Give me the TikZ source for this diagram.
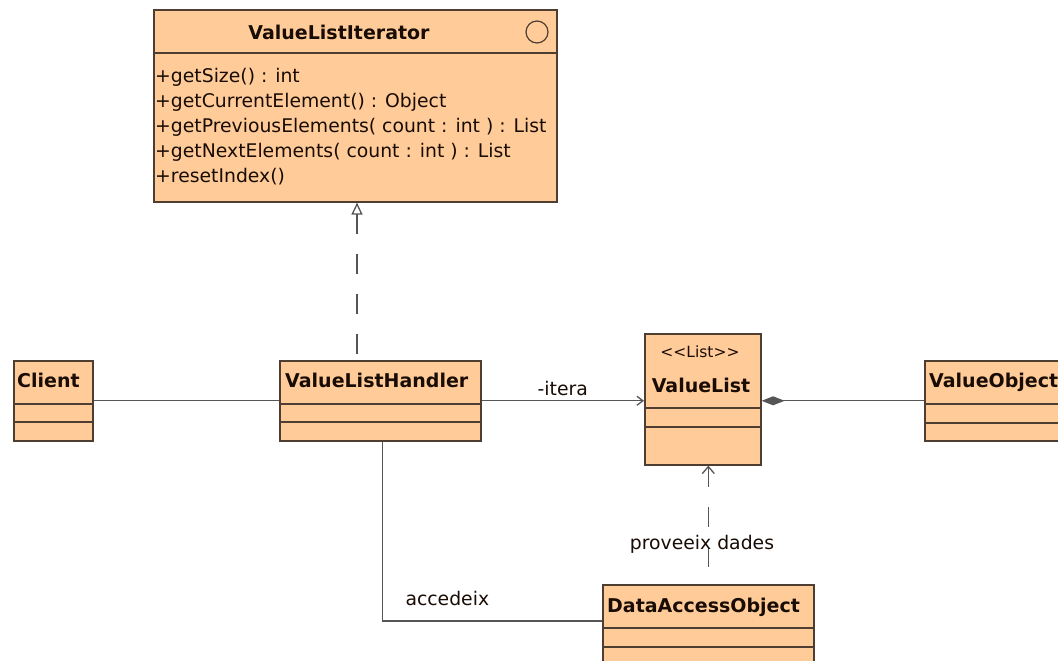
\documentclass[tikz,border=0pt]{standalone}
\usepackage{fontspec}
\setmainfont{DejaVu Sans}
\usetikzlibrary{arrows.meta,calc}
\definecolor{classfill}{RGB}{255,204,153}
\definecolor{classline}{RGB}{78,62,50}
\definecolor{conn}{RGB}{85,85,85}
\definecolor{ink}{RGB}{25,12,5}

\begin{document}
\begin{tikzpicture}[x=1pt,y=-1pt,
  cls/.style={draw=classline, fill=classfill, line width=1.6pt, inner sep=0pt, anchor=north west},
  div/.style={draw=classline, line width=1.3pt},
  cname/.style={font=\fontsize{19}{21}\selectfont\bfseries, text=ink, inner sep=0pt},
  member/.style={font=\fontsize{18.8}{21}\selectfont, text=ink, inner sep=0pt, anchor=base west},
  lbl/.style={font=\fontsize{18.8}{21}\selectfont, text=ink, inner sep=0pt},
  assoc/.style={draw=conn, line width=1.3pt},
  dep/.style={assoc, dash pattern=on 20pt off 20pt},
]
\useasboundingbox[fill=white] (0,0) rectangle (1058,661);

% interface ValueListIterator
\node[cls, minimum width=403pt, minimum height=192pt] (vli) at (153,9) {};
\draw[div] (vli.west |- 0,53) -- (vli.east |- 0,53);
\node[draw=classline, line width=1.2pt, circle, minimum size=22pt, inner sep=0pt] (ico) at (537,32) {};
\node[cname] (vlit) at (339,32) {ValueListIterator};
\node[member] (m1) at (155,82) {+getSize() : int};
\node[member] (m2) at (155,107) {+getCurrentElement() : Object};
\node[member] (m3) at (155,132) {+getPreviousElements( count : int ) : List};
\node[member] (m4) at (155,157) {+getNextElements( count : int ) : List};
\node[member] (m5) at (155,182) {+resetIndex()};

% Client
\node[cls, minimum width=79pt, minimum height=80pt] (client) at (13,360) {};
\draw[div] (client.west |- 0,404) -- (client.east |- 0,404);
\draw[div] (client.west |- 0,422) -- (client.east |- 0,422);
\node[cname, anchor=base west] (clientt) at (17,387) {Client};

% ValueListHandler
\node[cls, minimum width=201pt, minimum height=80pt] (vlh) at (279,360) {};
\draw[div] (vlh.west |- 0,404) -- (vlh.east |- 0,404);
\draw[div] (vlh.west |- 0,422) -- (vlh.east |- 0,422);
\node[cname, anchor=base west] (vlht) at (285,387) {ValueListHandler};

% ValueList with its stereotype
\node[cls, minimum width=116pt, minimum height=131pt] (vl) at (644,333) {};
\draw[div] (vl.west |- 0,408) -- (vl.east |- 0,408);
\draw[div] (vl.west |- 0,427) -- (vl.east |- 0,427);
\node[lbl, anchor=base, font=\fontsize{15.5}{18}\selectfont] (vls) at (700,357) {{<}{<}List{>}{>}};
\node[cname, anchor=base] (vlt) at (701,392) {ValueList};

% ValueObject
\node[cls, minimum width=150pt, minimum height=80pt] (vo) at (924,360) {};
\draw[div] (vo.west |- 0,404) -- (vo.east |- 0,404);
\draw[div] (vo.west |- 0,423) -- (vo.east |- 0,423);
\node[cname, anchor=base west] (vot) at (929,387) {ValueObject};

% DataAccessObject
\node[cls, minimum width=211pt, minimum height=90pt] (dao) at (602,584) {};
\draw[div] (dao.west |- 0,628) -- (dao.east |- 0,628);
\draw[div] (dao.west |- 0,647) -- (dao.east |- 0,647);
\node[cname, anchor=base west] (daot) at (607,612) {DataAccessObject};

% connectors
\draw[assoc] (client.east) -- (vlh.west);
\draw[assoc, -{Straight Barb[length=6pt,width=9pt]}] (vlh.east) -- (vlh.east -| vl.west)
  node[lbl, midway, anchor=base, yshift=5pt] {-itera};
\draw[assoc, {Diamond[length=23pt,width=9pt,fill=conn]}-] (vl.east |- vo.west) -- (vo.west);

\coordinate (rs) at ($(vlh.north west)+(78,0)$);
\draw[dep, {Triangle[open,length=12pt,width=11pt,fill=white]}-] (rs |- vli.south) -- (rs);

\draw[dep, {Straight Barb[length=7pt,width=12pt]}-] (dao.north |- vl.south) -- (dao.north);
\node[lbl, anchor=base] (prov) at (702,549) {proveeix dades};

\coordinate (daoin) at ($(dao.north west)+(0,37)$);
\draw[assoc] ($(vlh.south)+(2,0)$) |- (daoin)
  node[lbl, pos=0.648, anchor=base, yshift=16pt] {accedeix};
\end{tikzpicture}
\end{document}
